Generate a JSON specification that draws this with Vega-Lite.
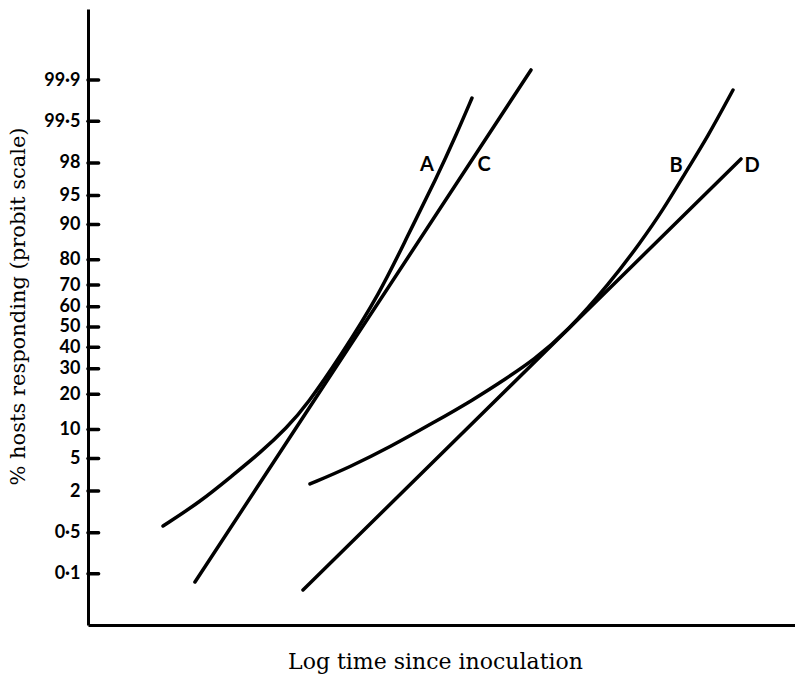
{
  "$schema": "https://vega.github.io/schema/vega-lite/v6.json",
  "width": 707,
  "height": 616,
  "autosize": "none",
  "padding": {"left": 88, "top": 9, "right": 0, "bottom": 51},
  "background": "white",
  "config": {"view": {"stroke": null}, "axis": {"labelOverlap": false}},
  "datasets": {
    "curves": [
      {"curve": "A", "logtime": 1.061, "probit": 2.509},
      {"curve": "A", "logtime": 1.584, "probit": 2.810},
      {"curve": "A", "logtime": 2.051, "probit": 3.148},
      {"curve": "A", "logtime": 2.433, "probit": 3.423},
      {"curve": "A", "logtime": 2.815, "probit": 3.740},
      {"curve": "A", "logtime": 3.098, "probit": 4.030},
      {"curve": "A", "logtime": 3.564, "probit": 4.625},
      {"curve": "A", "logtime": 4.130, "probit": 5.426},
      {"curve": "A", "logtime": 4.512, "probit": 6.126},
      {"curve": "A", "logtime": 4.936, "probit": 6.877},
      {"curve": "A", "logtime": 5.219, "probit": 7.428},
      {"curve": "A", "logtime": 5.431, "probit": 7.866},
      {"curve": "C", "logtime": 1.513, "probit": 1.808},
      {"curve": "C", "logtime": 6.266, "probit": 8.217},
      {"curve": "B", "logtime": 3.140, "probit": 3.035},
      {"curve": "B", "logtime": 3.706, "probit": 3.248},
      {"curve": "B", "logtime": 4.272, "probit": 3.498},
      {"curve": "B", "logtime": 4.880, "probit": 3.800},
      {"curve": "B", "logtime": 5.446, "probit": 4.086},
      {"curve": "B", "logtime": 5.926, "probit": 4.362},
      {"curve": "B", "logtime": 6.294, "probit": 4.580},
      {"curve": "B", "logtime": 6.775, "probit": 4.937},
      {"curve": "B", "logtime": 7.383, "probit": 5.551},
      {"curve": "B", "logtime": 7.808, "probit": 6.051},
      {"curve": "B", "logtime": 8.133, "probit": 6.464},
      {"curve": "B", "logtime": 8.472, "probit": 6.965},
      {"curve": "B", "logtime": 8.755, "probit": 7.365},
      {"curve": "B", "logtime": 9.123, "probit": 7.966},
      {"curve": "D", "logtime": 3.041, "probit": 1.708},
      {"curve": "D", "logtime": 9.236, "probit": 7.103},
      {"curve": "tick 0.1", "logtime": 0, "probit": 1.910}, {"curve": "tick 0.1", "logtime": 0.15, "probit": 1.910},
      {"curve": "tick 0.5", "logtime": 0, "probit": 2.424}, {"curve": "tick 0.5", "logtime": 0.15, "probit": 2.424},
      {"curve": "tick 2", "logtime": 0, "probit": 2.946}, {"curve": "tick 2", "logtime": 0.15, "probit": 2.946},
      {"curve": "tick 5", "logtime": 0, "probit": 3.355}, {"curve": "tick 5", "logtime": 0.15, "probit": 3.355},
      {"curve": "tick 10", "logtime": 0, "probit": 3.718}, {"curve": "tick 10", "logtime": 0.15, "probit": 3.718},
      {"curve": "tick 20", "logtime": 0, "probit": 4.158}, {"curve": "tick 20", "logtime": 0.15, "probit": 4.158},
      {"curve": "tick 30", "logtime": 0, "probit": 4.476}, {"curve": "tick 30", "logtime": 0.15, "probit": 4.476},
      {"curve": "tick 40", "logtime": 0, "probit": 4.747}, {"curve": "tick 40", "logtime": 0.15, "probit": 4.747},
      {"curve": "tick 50", "logtime": 0, "probit": 5.0}, {"curve": "tick 50", "logtime": 0.15, "probit": 5.0},
      {"curve": "tick 60", "logtime": 0, "probit": 5.253}, {"curve": "tick 60", "logtime": 0.15, "probit": 5.253},
      {"curve": "tick 70", "logtime": 0, "probit": 5.524}, {"curve": "tick 70", "logtime": 0.15, "probit": 5.524},
      {"curve": "tick 80", "logtime": 0, "probit": 5.842}, {"curve": "tick 80", "logtime": 0.15, "probit": 5.842},
      {"curve": "tick 90", "logtime": 0, "probit": 6.282}, {"curve": "tick 90", "logtime": 0.15, "probit": 6.282},
      {"curve": "tick 95", "logtime": 0, "probit": 6.645}, {"curve": "tick 95", "logtime": 0.15, "probit": 6.645},
      {"curve": "tick 98", "logtime": 0, "probit": 7.054}, {"curve": "tick 98", "logtime": 0.15, "probit": 7.054},
      {"curve": "tick 99.5", "logtime": 0, "probit": 7.576}, {"curve": "tick 99.5", "logtime": 0.15, "probit": 7.576},
      {"curve": "tick 99.9", "logtime": 0, "probit": 8.090}, {"curve": "tick 99.9", "logtime": 0.15, "probit": 8.090}
    ],
    "labels": [
      {"curve": "A", "logtime": 4.795, "probit": 7.028},
      {"curve": "C", "logtime": 5.601, "probit": 7.028},
      {"curve": "B", "logtime": 8.317, "probit": 7.015},
      {"curve": "D", "logtime": 9.392, "probit": 7.015}
    ]
  },
  "encoding": {
    "x": {
      "field": "logtime", "type": "quantitative",
      "scale": {"domain": [0, 10], "nice": false, "zero": false},
      "axis": {
        "title": "Log time since inoculation",
        "titleFont": "DejaVu Serif", "titleFontSize": 22, "titleFontWeight": "normal", "titleColor": "black",
        "titlePadding": 26, "titleX": 347, "titleAlign": "center",
        "ticks": false, "labels": false, "grid": false,
        "domainColor": "black", "domainWidth": 3
      }
    },
    "y": {
      "field": "probit", "type": "quantitative",
      "scale": {"domain": [1.27, 8.98], "nice": false, "zero": false},
      "axis": {
        "title": "% hosts responding (probit scale)",
        "titleFont": "DejaVu Serif", "titleFontSize": 21, "titleFontWeight": "normal", "titleColor": "black",
        "titleAngle": -90, "titleBaseline": "middle", "titleAlign": "center",
        "titleX": -70, "titleY": 297,
        "values": [1.910, 2.424, 2.946, 3.355, 3.718, 4.158, 4.476, 4.747, 5.0, 5.253, 5.524, 5.842, 6.282, 6.645, 7.054, 7.576, 8.090],
        "labelExpr": "datum.value < 2 ? '0·1' : datum.value < 2.6 ? '0·5' : datum.value < 3.1 ? '2' : datum.value < 3.5 ? '5' : datum.value < 3.9 ? '10' : datum.value < 4.3 ? '20' : datum.value < 4.6 ? '30' : datum.value < 4.9 ? '40' : datum.value < 5.1 ? '50' : datum.value < 5.4 ? '60' : datum.value < 5.7 ? '70' : datum.value < 6 ? '80' : datum.value < 6.5 ? '90' : datum.value < 6.8 ? '95' : datum.value < 7.3 ? '98' : datum.value < 7.8 ? '99·5' : '99·9'",
        "labelFont": "Lato", "labelFontWeight": "bold", "labelFontSize": 18, "labelColor": "black",
        "labelOverlap": false, "labelBound": false, "labelFlush": false,
        "ticks": false, "labelPadding": 8,
        "grid": false,
        "domainColor": "black", "domainWidth": 3
      }
    }
  },
  "layer": [
    {
      "data": {"name": "curves"},
      "mark": {"type": "line", "interpolate": "basis", "color": "black", "strokeWidth": 3.5, "strokeCap": "round"},
      "encoding": {
        "detail": {"field": "curve", "type": "nominal"}
      }
    },
    {
      "data": {"name": "labels"},
      "mark": {"type": "text", "font": "Lato", "fontWeight": "bold", "fontSize": 20, "color": "black", "align": "center", "baseline": "middle"},
      "encoding": {
        "text": {"field": "curve", "type": "nominal"}
      }
    }
  ]
}
